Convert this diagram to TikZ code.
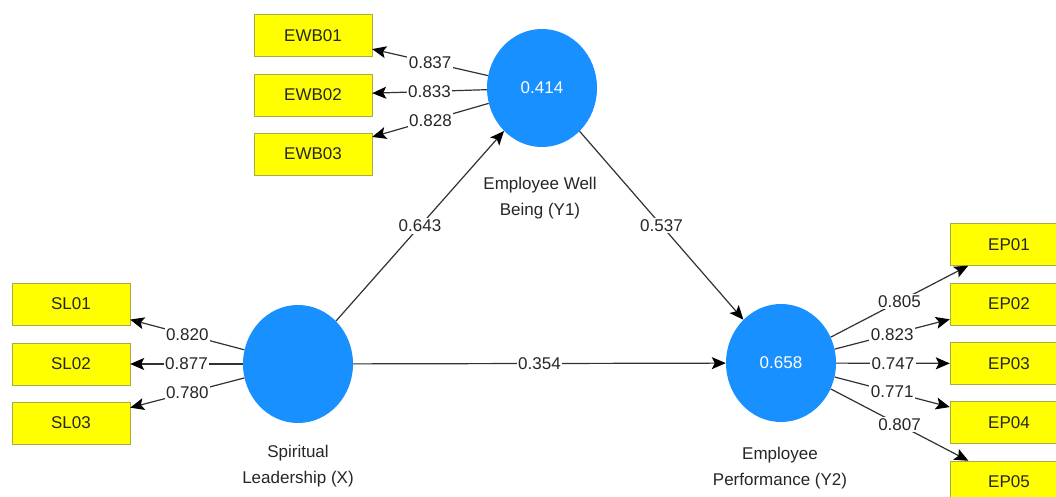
\documentclass[tikz,border=0pt]{standalone}
\usepackage{fontspec}
\setmainfont{Liberation Sans}
\usetikzlibrary{arrows.meta,shapes.geometric}
\definecolor{lvblue}{RGB}{24,144,255}
\definecolor{mvyellow}{RGB}{255,255,0}
\definecolor{mvborder}{RGB}{170,170,70}
\definecolor{pathgray}{RGB}{50,50,50}
\begin{document}
\begin{tikzpicture}
	[
	x=1pt, y=-1pt,
	every node/.style={font=\fontsize{17}{26}\selectfont, align=center, text=black!85},
	indicator/.style={rectangle, fill=mvyellow, draw=mvborder, minimum width=118, minimum height=42, inner sep=0},
	latent/.style={ellipse, fill=lvblue, draw=none, minimum width=110, minimum height=118, inner sep=0, text=white},
	coef/.style={fill=white, inner sep=1.5pt, midway},
	load/.style={draw=pathgray, line width=1.2pt, -{Stealth[length=14pt, width=12pt, inset=3pt, black]}}
	]
		\useasboundingbox (0,0) rectangle (1056,497);
		\fill[white] (0,0) rectangle (1056,497);

		% latent variables
		\node[latent] (ewb) at 	(542, 88) {0.414};
		\node[latent] (sl) at 	(298, 364) {};
		\node[latent] (ep) at 	(781, 363) {0.658};

		% latent names
		\node (ewbname) at 	(540, 198) {Employee Well\\Being (Y1)};
		\node (slname) at 	(298, 466) {Spiritual\\Leadership (X)};
		\node (epname) at 	(780, 468) {Employee\\Performance (Y2)};

		% indicators of Y1
		\node[indicator] (ewb1) at 	(313, 35.5) {EWB01};
		\node[indicator] (ewb2) at 	(313, 95) {EWB02};
		\node[indicator] (ewb3) at 	(313, 154) {EWB03};

		% indicators of X
		\node[indicator] (sl1) at 	(71, 304) {SL01};
		\node[indicator] (sl2) at 	(71, 364) {SL02};
		\node[indicator] (sl3) at 	(71, 423) {SL03};

		% indicators of Y2
		\node[indicator] (ep1) at 	(1009, 244.5) {EP01};
		\node[indicator] (ep2) at 	(1009, 304) {EP02};
		\node[indicator] (ep3) at 	(1009, 363.5) {EP03};
		\node[indicator] (ep4) at 	(1009, 422.5) {EP04};
		\node[indicator] (ep5) at 	(1009, 482) {EP05};

		% drawing code
		\foreach \from/\to/\w in {sl/ewb/0.643,ewb/ep/0.537,sl/ep/0.354} \draw[load] (\from) -- node[coef] {\w} (\to);
		\foreach \from/\to/\w in {ewb/ewb1/0.837,ewb/ewb2/0.833,ewb/ewb3/0.828} \draw[load] (\from) -- node[coef] {\w} (\to);
		\foreach \from/\to/\w in {sl/sl1/0.820,sl/sl2/0.877,sl/sl3/0.780} \draw[load] (\from) -- node[coef] {\w} (\to);
		\foreach \from/\to/\w in {ep/ep1/0.805,ep/ep2/0.823,ep/ep3/0.747,ep/ep4/0.771,ep/ep5/0.807} \draw[load] (\from) -- node[coef] {\w} (\to);
	\end{tikzpicture}
\end{document}
